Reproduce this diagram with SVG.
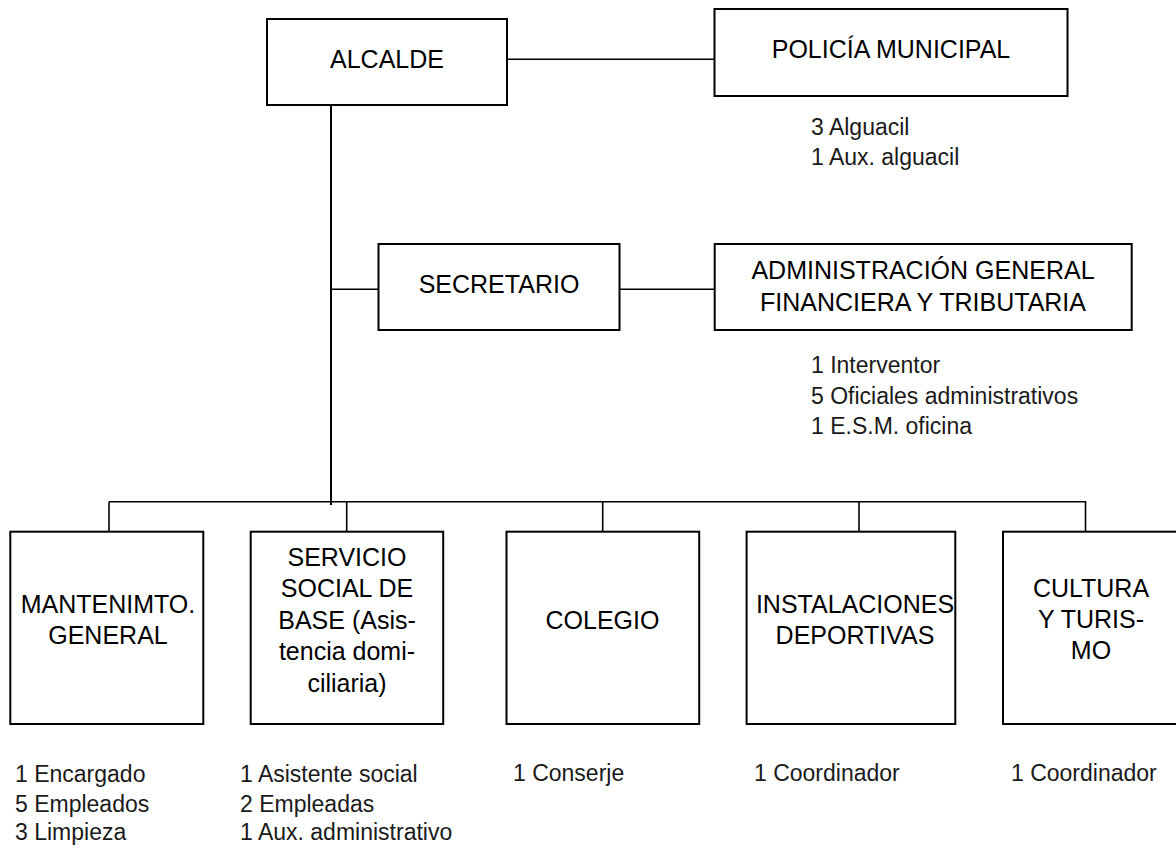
<svg xmlns="http://www.w3.org/2000/svg" width="1176" height="848" viewBox="0 0 1176 848">
<style>
  .box { fill: #ffffff; stroke: #000000; stroke-width: 2; }
  .lbl { font-family: "Liberation Sans", Arial, sans-serif; font-size: 25px; fill: #000000; text-anchor: middle; }
  .staff { font-family: "Liberation Sans", Arial, sans-serif; font-size: 23px; fill: #1a1a1a; }
  .conn { stroke: #000000; stroke-width: 1.6; fill: none; }
  .main { stroke: #000000; stroke-width: 2; fill: none; }
</style>
<rect width="1176" height="848" fill="#ffffff"/>

<g id="connectors">
  <line class="conn" x1="507" y1="59.3" x2="714.5" y2="59.3"/>
  <line class="main" x1="331" y1="105" x2="331" y2="505"/>
  <line class="conn" x1="331" y1="289.3" x2="378.5" y2="289.3"/>
  <line class="conn" x1="619.3" y1="289.3" x2="714.7" y2="289.3"/>
  <line class="conn" x1="109" y1="501.7" x2="1086.3" y2="501.7"/>
  <line class="conn" x1="109" y1="501.7" x2="109" y2="531.7"/>
  <line class="conn" x1="346.7" y1="501.7" x2="346.7" y2="531.7"/>
  <line class="conn" x1="602.7" y1="501.7" x2="602.7" y2="531.7"/>
  <line class="conn" x1="859" y1="501.7" x2="859" y2="531.7"/>
  <line class="conn" x1="1085.5" y1="501.7" x2="1085.5" y2="531.7"/>
</g>

<g id="alcalde">
  <rect class="box" x="267" y="19" width="240" height="86"/>
  <text class="lbl" x="387" y="68">ALCALDE</text>
</g>

<g id="policia">
  <rect class="box" x="714.5" y="9" width="353" height="87"/>
  <text class="lbl" x="891" y="58">POLICÍA MUNICIPAL</text>
  <text class="staff" x="811" y="135">3 Alguacil</text>
  <text class="staff" x="811" y="165">1 Aux. alguacil</text>
</g>

<g id="secretario">
  <rect class="box" x="378.5" y="244" width="241" height="86"/>
  <text class="lbl" x="499" y="293">SECRETARIO</text>
</g>

<g id="administracion">
  <rect class="box" x="714.7" y="244" width="417" height="86"/>
  <text class="lbl" x="923" y="278.5">ADMINISTRACIÓN GENERAL</text>
  <text class="lbl" x="923" y="311">FINANCIERA Y TRIBUTARIA</text>
  <text class="staff" x="811" y="373">1 Interventor</text>
  <text class="staff" x="811" y="404">5 Oficiales administrativos</text>
  <text class="staff" x="811" y="433.5">1 E.S.M. oficina</text>
</g>

<g id="mantenimiento">
  <rect class="box" x="10.3" y="531.7" width="193" height="192.3"/>
  <text class="lbl" x="108" y="613.3">MANTENIMTO.</text>
  <text class="lbl" x="108" y="644">GENERAL</text>
  <text class="staff" x="15" y="781.7">1 Encargado</text>
  <text class="staff" x="15" y="811.7">5 Empleados</text>
  <text class="staff" x="15" y="840">3 Limpieza</text>
</g>

<g id="servicio-social">
  <rect class="box" x="250.7" y="531.7" width="192.5" height="192.3"/>
  <text class="lbl" x="347" y="566">SERVICIO</text>
  <text class="lbl" x="347" y="597">SOCIAL DE</text>
  <text class="lbl" x="347" y="629">BASE (Asis-</text>
  <text class="lbl" x="347" y="660">tencia domi-</text>
  <text class="lbl" x="347" y="691.7">ciliaria)</text>
  <text class="staff" x="240" y="781.7">1 Asistente social</text>
  <text class="staff" x="240" y="811.7">2 Empleadas</text>
  <text class="staff" x="240" y="840">1 Aux. administrativo</text>
</g>

<g id="colegio">
  <rect class="box" x="506.5" y="531.7" width="192.7" height="192.3"/>
  <text class="lbl" x="602.5" y="629.3">COLEGIO</text>
  <text class="staff" x="513" y="780.5">1 Conserje</text>
</g>

<g id="instalaciones">
  <rect class="box" x="746.6" y="531.7" width="208.7" height="192.3"/>
  <text class="lbl" x="855" y="613.3">INSTALACIONES</text>
  <text class="lbl" x="855" y="644">DEPORTIVAS</text>
  <text class="staff" x="754" y="780.5">1 Coordinador</text>
</g>

<g id="cultura">
  <rect class="box" x="1003" y="531.7" width="195" height="192.3"/>
  <text class="lbl" x="1091" y="596.7">CULTURA</text>
  <text class="lbl" x="1091" y="628.3">Y TURIS-</text>
  <text class="lbl" x="1091" y="659.3">MO</text>
  <text class="staff" x="1011" y="780.5">1 Coordinador</text>
</g>
</svg>
